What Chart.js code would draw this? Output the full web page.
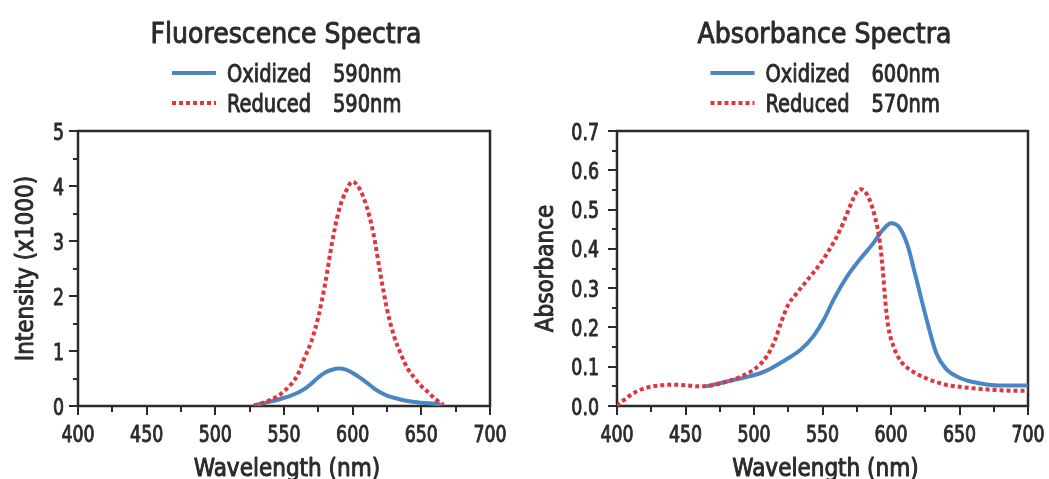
<!DOCTYPE html>
<html>
<head>
<meta charset="utf-8">
<title>Fluorescence and Absorbance Spectra</title>
<script src="https://cdn.jsdelivr.net/npm/chart.js@4.4.1/dist/chart.umd.min.js"></script>
<style>
  html, body { margin: 0; padding: 0; background: #fff; }
  #wrap { position: relative; width: 1049px; height: 479px; overflow: hidden; }
  .pane { position: absolute; top: 0; height: 479px; }
  #paneL { left: 0; width: 524px; }
  #paneR { left: 524px; width: 525px; }
</style>
</head>
<body>
<div id="wrap">
  <div class="pane" id="paneL"><canvas id="fluoChart"></canvas></div>
  <div class="pane" id="paneR"><canvas id="absChart"></canvas></div>
</div>
<script>
// ---- data ----
const xTicks = [400, 450, 500, 550, 600, 650, 700];

// Fluorescence, intensity x1000
const fluoOxWl  = [528, 535, 540, 545, 550, 555, 560, 565, 570, 575, 580, 585, 590, 595, 600, 605, 610, 615, 620, 625, 630, 640, 650, 660, 664];
const fluoOxVal = [0.01, 0.05, 0.08, 0.11, 0.15, 0.19, 0.24, 0.31, 0.41, 0.52, 0.61, 0.66, 0.68, 0.66, 0.60, 0.52, 0.43, 0.33, 0.25, 0.19, 0.15, 0.09, 0.06, 0.04, 0.03];
const fluoRedWl  = [528, 535, 540, 545, 550, 555, 560, 565, 570, 575, 580, 585, 590, 595, 600, 605, 610, 615, 620, 625, 630, 635, 640, 645, 650, 655, 660, 666];
const fluoRedVal = [0.0, 0.06, 0.11, 0.17, 0.27, 0.39, 0.57, 0.88, 1.18, 1.62, 2.23, 2.97, 3.56, 3.90, 4.08, 3.95, 3.64, 3.15, 2.43, 1.76, 1.28, 0.95, 0.68, 0.51, 0.36, 0.25, 0.13, 0.02];
const fluoYTicks = [0, 1, 2, 3, 4, 5];

// Absorbance
const absOxWl  = [465, 475, 485, 495, 505, 512, 519, 527, 534, 543, 551, 558, 568, 577, 587, 594, 600, 606, 612, 618, 626, 633, 640, 650, 660, 670, 680, 700];
const absOxVal = [0.050, 0.058, 0.066, 0.074, 0.084, 0.095, 0.109, 0.126, 0.143, 0.176, 0.220, 0.270, 0.330, 0.372, 0.414, 0.448, 0.465, 0.455, 0.410, 0.330, 0.220, 0.135, 0.095, 0.072, 0.061, 0.055, 0.052, 0.052];
const absRedWl  = [400, 405, 410, 415, 420, 430, 440, 450, 460, 470, 480, 490, 500, 505, 510, 515, 520, 525, 530, 540, 550, 555, 560, 565, 570, 575, 578, 583, 588, 592, 594, 596, 598, 602, 607, 614, 626, 640, 650, 660, 675, 690, 700];
const absRedVal = [0.000, 0.015, 0.028, 0.038, 0.045, 0.052, 0.054, 0.053, 0.050, 0.053, 0.062, 0.074, 0.093, 0.108, 0.130, 0.165, 0.215, 0.258, 0.282, 0.325, 0.370, 0.398, 0.428, 0.465, 0.508, 0.545, 0.552, 0.535, 0.485, 0.414, 0.346, 0.261, 0.202, 0.150, 0.115, 0.092, 0.070, 0.054, 0.049, 0.045, 0.041, 0.039, 0.039];
const absYTicks = [0, 0.1, 0.2, 0.3, 0.4, 0.5, 0.6, 0.7];

const fluoLegend = [['Oxidized', '590nm'], ['Reduced', '590nm']];
const absLegend  = [['Oxidized', '600nm'], ['Reduced', '570nm']];

// ---- styles ----
const FONT = "'DejaVu Sans Condensed', 'DejaVu Sans', sans-serif";
const INK = '#2b2b2b';
const BLUE = '#4a86c4';
const RED = '#e2343b';

const toPoints = (xs, ys) => xs.map((x, i) => ({ x: x, y: ys[i] }));

// text squeezed sideways a bit, the original uses a condensed face
function drawText(ctx, text, x, y, align, sx) {
    ctx.save();
    ctx.translate(x, y);
    ctx.scale(sx, 1);
    ctx.textAlign = align;
    ctx.fillText(text, 0, 0);
    ctx.strokeText(text, 0, 0);
    ctx.restore();
}

// frame, tick marks, tick labels, titles and legend
const spectraDecor = {
    id: 'spectraDecor',
    beforeDatasetsDraw(chart, args, opts) {
        const { ctx, chartArea: a } = chart;
        const xs = chart.scales.x, ys = chart.scales.y;
        ctx.save();
        ctx.strokeStyle = INK;
        ctx.lineWidth = 2;
        ctx.beginPath();
        for (let v = xs.min; v <= xs.max + 0.001; v += opts.xMinor) {
            const px = Math.round(xs.getPixelForValue(v));
            const len = (Math.round(v) % opts.xMajor === 0) ? 9 : 6;
            ctx.moveTo(px, a.bottom);
            ctx.lineTo(px, a.bottom + len);
        }
        for (let i = 0; i * opts.yMinor <= ys.max + 1e-9; i++) {
            const py = Math.round(ys.getPixelForValue(i * opts.yMinor));
            const len = (i % 2 === 0) ? 9 : 5;
            ctx.moveTo(a.left, py);
            ctx.lineTo(a.left - len, py);
        }
        ctx.stroke();
        ctx.lineWidth = 2.5;
        ctx.strokeRect(a.left, a.top, a.right - a.left, a.bottom - a.top);
        ctx.restore();
    },
    afterDraw(chart, args, opts) {
        const { ctx, chartArea: a } = chart;
        const xs = chart.scales.x, ys = chart.scales.y;
        const cx = (a.left + a.right) / 2;
        ctx.save();
        ctx.fillStyle = INK;
        ctx.strokeStyle = INK;
        ctx.lineWidth = 0.9;
        ctx.lineJoin = 'round';
        ctx.textBaseline = 'alphabetic';

        // tick labels
        ctx.font = '23px ' + FONT;
        xs.ticks.forEach(t => drawText(ctx, String(t.value), xs.getPixelForValue(t.value), a.bottom + 36, 'center', 0.84));
        ys.ticks.forEach(t => drawText(ctx, opts.yFmt(t.value), a.left - opts.yLabelGap, ys.getPixelForValue(t.value) + 8.5, 'right', 0.84));

        // title
        ctx.font = '28px ' + FONT;
        drawText(ctx, opts.title, cx + 2, 43, 'center', 1);

        // legend
        ctx.font = '24px ' + FONT;
        const rows = [82, 112];
        const styles = [
            { color: BLUE, dash: [] },
            { color: RED, dash: [4, 3] }
        ];
        opts.legend.forEach((item, i) => {
            const y = rows[i];
            ctx.save();
            ctx.strokeStyle = styles[i].color;
            ctx.lineWidth = 4;
            ctx.setLineDash(styles[i].dash);
            ctx.beginPath();
            ctx.moveTo(cx - 112, y - 9);
            ctx.lineTo(cx - 68, y - 9);
            ctx.stroke();
            ctx.restore();
            drawText(ctx, item[0], cx - 57, y, 'left', 0.9);
            drawText(ctx, item[1], cx + 49, y, 'left', 0.9);
        });

        // axis titles
        ctx.font = '24px ' + FONT;
        drawText(ctx, opts.xTitle, cx + 3, 476, 'center', 1);
        ctx.save();
        ctx.translate(a.left - opts.yTitleGap, (a.top + a.bottom) / 2);
        ctx.rotate(-Math.PI / 2);
        drawText(ctx, opts.yTitle, 0, 0, 'center', 1);
        ctx.restore();
        ctx.restore();
    }
};

function makeChart(canvasId, cfg) {
    const datasets = [
        {
            label: 'Reduced',
            data: toPoints(cfg.redWl, cfg.redVal),
            borderColor: RED,
            borderWidth: 4,
            borderDash: [4, 3],
            borderCapStyle: 'butt',
            pointRadius: 0,
            cubicInterpolationMode: 'monotone',
            order: 0
        },
        {
            label: 'Oxidized',
            data: toPoints(cfg.oxWl, cfg.oxVal),
            borderColor: BLUE,
            borderWidth: 4,
            pointRadius: 0,
            cubicInterpolationMode: 'monotone',
            order: 1
        }
    ];

    return new Chart(document.getElementById(canvasId), {
        type: 'line',
        data: { datasets: datasets },
        plugins: [spectraDecor],
        options: {
            responsive: true,
            maintainAspectRatio: false,
            animation: false,
            layout: { padding: { top: 131, right: cfg.padRight, bottom: 0, left: 0 } },
            plugins: {
                legend: { display: false },
                tooltip: { enabled: false },
                title: { display: false },
                spectraDecor: cfg.decor
            },
            scales: {
                x: {
                    type: 'linear',
                    min: 400,
                    max: 700,
                    afterFit: s => { s.height = 73; s.paddingLeft = 0; s.paddingRight = 0; },
                    afterBuildTicks: s => { s.ticks = xTicks.map(v => ({ value: v })); },
                    grid: { display: false, drawTicks: false },
                    border: { display: false },
                    ticks: { display: false }
                },
                y: {
                    type: 'linear',
                    min: 0,
                    max: cfg.yTicks[cfg.yTicks.length - 1],
                    afterFit: s => { s.width = cfg.yWidth; s.paddingTop = 0; s.paddingBottom = 0; },
                    afterBuildTicks: s => { s.ticks = cfg.yTicks.map(v => ({ value: v })); },
                    grid: { display: false, drawTicks: false },
                    border: { display: false },
                    ticks: { display: false }
                }
            }
        }
    });
}

makeChart('fluoChart', {
    oxWl: fluoOxWl, oxVal: fluoOxVal,
    redWl: fluoRedWl, redVal: fluoRedVal,
    yTicks: fluoYTicks,
    yWidth: 78,
    padRight: 34,
    decor: {
        title: 'Fluorescence Spectra',
        legend: fluoLegend,
        xTitle: 'Wavelength (nm)',
        yTitle: 'Intensity (x1000)',
        yFmt: v => String(v),
        yLabelGap: 14,
        yTitleGap: 45,
        xMinor: 25, xMajor: 50,
        yMinor: 0.5
    }
});

makeChart('absChart', {
    oxWl: absOxWl, oxVal: absOxVal,
    redWl: absRedWl, redVal: absRedVal,
    yTicks: absYTicks,
    yWidth: 93,
    padRight: 21,
    decor: {
        title: 'Absorbance Spectra',
        legend: absLegend,
        xTitle: 'Wavelength (nm)',
        yTitle: 'Absorbance',
        yFmt: v => v.toFixed(1),
        yLabelGap: 18,
        yTitleGap: 64,
        xMinor: 25, xMajor: 50,
        yMinor: 0.05
    }
});
</script>
</body>
</html>
